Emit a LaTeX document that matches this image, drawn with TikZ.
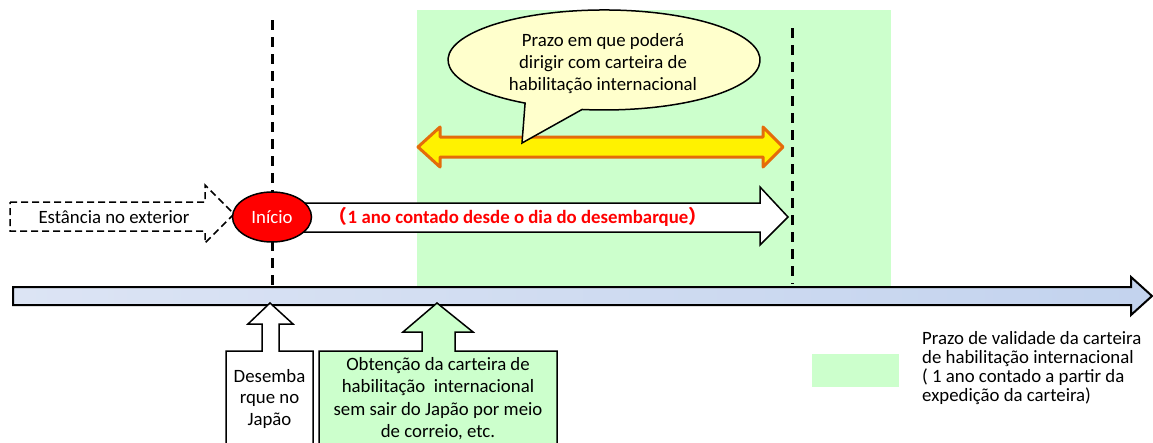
\documentclass[tikz,border=0pt]{standalone}
\usepackage{fontspec}
\setmainfont{Carlito}
\newfontfamily\cjkfont{Noto Sans CJK JP}
\usetikzlibrary{shapes.geometric}
\definecolor{lgreen}{HTML}{CCFFCC}
\definecolor{callfill}{HTML}{FFFFCC}
\definecolor{orangeb}{HTML}{E46C0A}
\definecolor{tlL}{HTML}{DCE4F4}
\definecolor{tlM}{HTML}{D9D9D9}
\definecolor{tlR}{HTML}{C3D3EE}
\tikzset{
  txt/.style={font=\fontsize{18.8}{22}\selectfont, inner sep=0pt, align=center},
  vline/.style={line width=3pt, dash pattern=on 10pt off 7pt},
  shapeline/.style={draw=black, line width=1.5pt, line join=miter},
}
\begin{document}
\begin{tikzpicture}[x=1pt,y=-1pt]
\useasboundingbox (0,0) rectangle (1153,442);
\clip (0,0) rectangle (1153,442);
% green validity region
\fill[lgreen] (417,10) rectangle (891,287);
% dashed verticals
\coordinate (d1t) at (272,20); \coordinate (d1b) at (272,288);
\coordinate (d2t) at (792,28); \coordinate (d2b) at (792,284);
\draw[vline] (d1t) -- (d1b);
\draw[vline] (d2t) -- (d2b);
% timeline
\draw[line width=2pt, left color=tlL, middle color=tlM, right color=tlR]
  (13,287) -- (1131,287) -- (1131,277) -- (1152,296) -- (1131,315) -- (1131,305) -- (13,305) -- cycle;
% yellow double arrow
\draw[draw=orangeb, fill=yellow, line width=3pt, line join=round]
  (418,147) -- (440,127) -- (440,137) -- (763,137) -- (763,127) -- (783,147)
  -- (763,167) -- (763,157) -- (440,157) -- (440,167) -- cycle;
% callout
\draw[shapeline, fill=callfill]
  (522,143) -- (525.1,103.1) arc[start angle=120.4, end angle=458.1, x radius=156, y radius=50] -- cycle;
\node[txt] (callout) at (603,64) {Prazo em que poderá\\dirigir com carteira de\\habilitação internacional};
% dashed arrow: stay abroad
\draw[line width=1.5pt, dash pattern=on 7pt off 4pt, fill=white]
  (10,202) -- (205,202) -- (205,185) -- (234,214) -- (205,243) -- (205,231) -- (10,231) -- cycle;
\node[txt] (abroad) at (114,217) {Estância no exterior};
% 1 year arrow
\draw[shapeline, fill=white]
  (290,203) -- (760,203) -- (760,187) -- (788,217) -- (760,245) -- (760,232) -- (290,232) -- cycle;
\node[txt, text=red, font=\fontsize{18.8}{22}\selectfont\bfseries] (oneyear) at (518,217)
  {{\cjkfont （}1 ano contado desde o dia do desembarque{\cjkfont ）}};
% start ellipse
\node[ellipse, draw=black, line width=1.5pt, fill=red, minimum width=79pt, minimum height=50pt,
  inner sep=0pt, text=white, font=\fontsize{18.8}{22}\selectfont] (inicio) at (272,217) {Início};
% up arrow box 1
\draw[shapeline, fill=white]
  (226,448) -- (226,351) -- (262,351) -- (262,324) -- (248,324) -- (270,303) -- (293,324)
  -- (279,324) -- (279,351) -- (313,351) -- (313,448);
\node[txt, font=\fontsize{18.8}{21.5}\selectfont] (desemb) at (269.5,398.5) {Desemba\\rque no\\Japão};
% up arrow box 2
\draw[shapeline, fill=lgreen]
  (319,448) -- (319,351) -- (422,351) -- (422,332) -- (403,332) -- (437,303) -- (473,332)
  -- (455,332) -- (455,351) -- (557,351) -- (557,448);
\node[txt, font=\fontsize{18.8}{22.5}\selectfont] (obt) at (438,398.5) {Obtenção da carteira de\\habilitação\ \ internacional\\sem sair do Japão por meio\\de correio, etc.};
% legend
\fill[lgreen] (812,354) rectangle (899,387);
\node[txt, align=left, anchor=west, font=\fontsize{18.8}{19}\selectfont] (legend) at (922,368.5)
  {Prazo de validade da carteira\\de habilitação internacional\\( 1 ano contado a partir da\\expedição da carteira)};
\end{tikzpicture}
\end{document}
